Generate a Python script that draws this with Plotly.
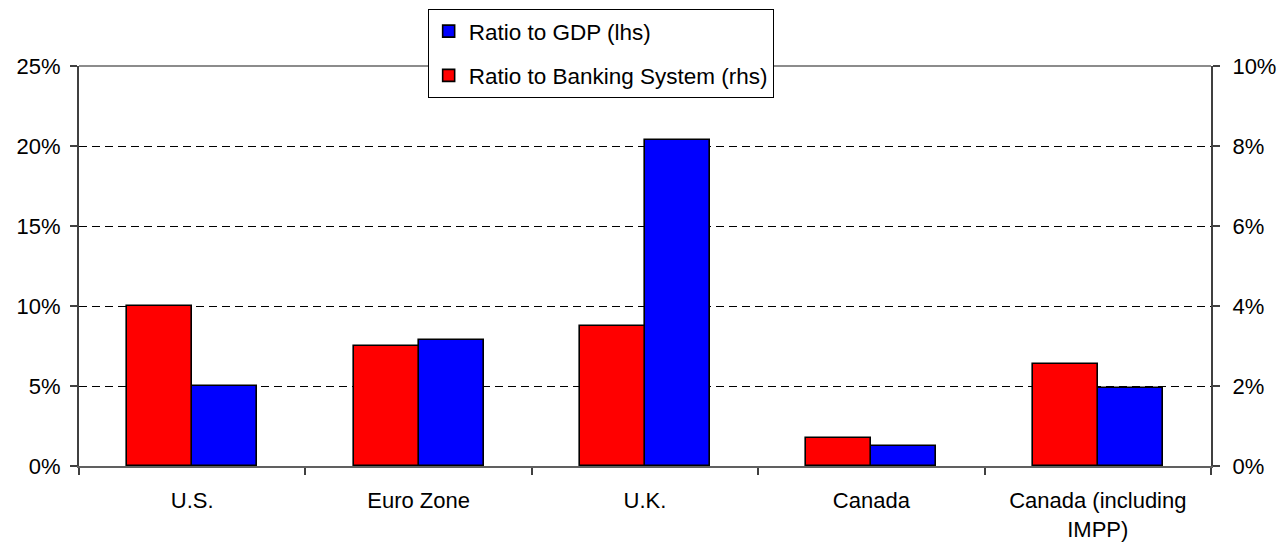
import plotly.graph_objects as go

# Category labels and series values
categories = ["U.S.", "Euro Zone", "U.K.", "Canada", "Canada (including<br>IMPP)"]
ratio_to_gdp = [0.050, 0.079, 0.204, 0.0127, 0.049]          # left axis
ratio_to_banking = [0.040, 0.030, 0.035, 0.007, 0.0255]       # right axis

left_ticks = [0, 0.05, 0.10, 0.15, 0.20, 0.25]
right_ticks = [0, 0.02, 0.04, 0.06, 0.08, 0.10]

FONT = "Liberation Sans, Arial, sans-serif"
BAR_W = 0.287

fig = go.Figure()

fig.add_trace(go.Bar(
    x=categories, y=ratio_to_gdp, name="Ratio to GDP (lhs)",
    yaxis="y", width=BAR_W, offset=0,
    marker=dict(color="#0000FF", line=dict(color="black", width=1.6)),
    legendgroup="gdp",
))
fig.add_trace(go.Bar(
    x=categories, y=ratio_to_banking, name="Ratio to Banking System (rhs)",
    yaxis="y2", width=BAR_W, offset=-BAR_W,
    marker=dict(color="#FF0000", line=dict(color="black", width=1.6)),
    legendgroup="bank",
))

fig.update_layout(
    width=1279, height=553,
    margin=dict(l=79, r=68, t=66, b=87, autoexpand=False),
    paper_bgcolor="white", plot_bgcolor="white",
    font=dict(family=FONT, size=22, color="black"),
    bargap=0, barmode="overlay",
    showlegend=True,
    legend=dict(
        x=0.308, y=1.1425, xanchor="left", yanchor="top",
        bgcolor="white", bordercolor="black", borderwidth=1,
        font=dict(family=FONT, size=22.5, color="black"),
        traceorder="grouped", tracegroupgap=12,
    ),
    xaxis=dict(
        type="category", showgrid=False, automargin=False,
        showline=True, linecolor="#606060", linewidth=2,
        ticks="outside", tickson="boundaries", ticklen=7,
        tickcolor="#404040", tickwidth=1.5,
        ticklabelstandoff=14,
        range=[-0.5, 4.5],
    ),
    yaxis=dict(
        range=[0, 0.25], tickvals=left_ticks, tickformat=".0%",
        showgrid=True, gridcolor="black", gridwidth=1, griddash="8px,5px",
        zeroline=False, automargin=False,
        showline=True, linecolor="#404040", linewidth=2,
        ticks="outside", ticklen=7, tickcolor="#404040", tickwidth=1.5,
        ticklabelstandoff=5,
    ),
    yaxis2=dict(
        range=[0, 0.10], tickvals=right_ticks, tickformat=".0%",
        overlaying="y", side="right", showgrid=False, zeroline=False,
        automargin=False,
        showline=True, linecolor="#404040", linewidth=2,
        ticks="outside", ticklen=7, tickcolor="#404040", tickwidth=1.5,
        ticklabelstandoff=8,
    ),
)

# Plot-area top border
fig.add_shape(type="line", xref="paper", yref="paper", x0=0, x1=1, y0=1, y1=1,
              line=dict(color="#8c8c8c", width=2), layer="below")

fig.write_html("out.html")
